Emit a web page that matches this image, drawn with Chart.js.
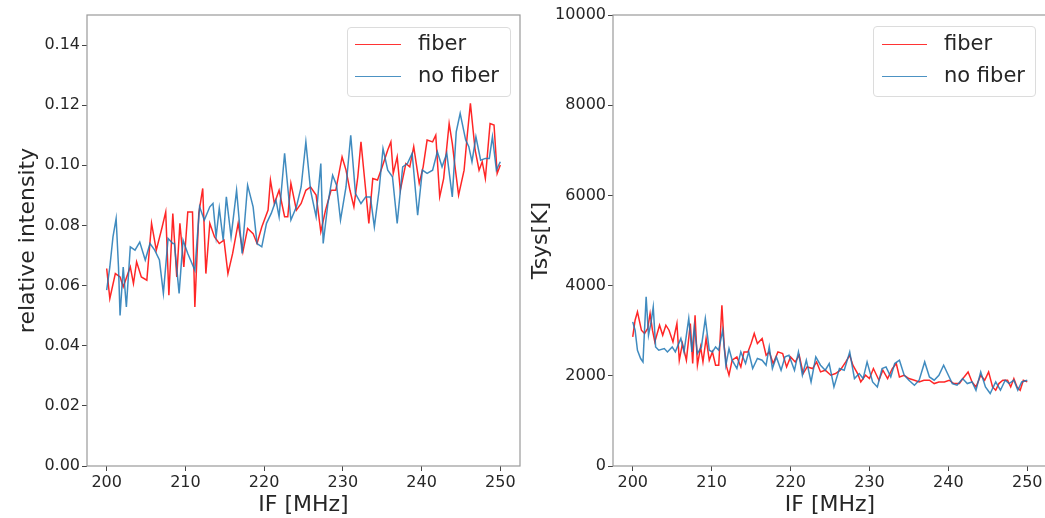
<!DOCTYPE html>
<html>
<head>
<meta charset="utf-8">
<script src="https://cdn.jsdelivr.net/npm/chart.js@4.4.1/dist/chart.umd.min.js"></script>
<style>
  html, body { margin:0; padding:0; background:#fff; }
  body { width:1045px; height:518px; overflow:hidden; position:relative; font-family:"DejaVu Sans", sans-serif; }
  canvas { position:absolute; top:0; }
  .legend { position:absolute; border:1px solid #dcdcdc; border-radius:4px; background:rgba(255,255,255,0.8); box-sizing:border-box; }
  .legend .ln { position:absolute; height:0; border-top:1.5px solid; }
  .legend .tx { position:absolute; font-size:21px; line-height:21px; color:#262626; white-space:nowrap; }
</style>
</head>
<body>
<canvas id="left" width="530" height="518" style="left:0;width:530px;height:518px"></canvas>
<canvas id="right" width="530" height="518" style="left:530px;width:530px;height:518px"></canvas>

<div class="legend" style="left:347px;top:27px;width:164px;height:70px">
  <div class="ln" style="left:7px;top:16px;width:46px;border-color:rgba(255,0,0,0.8)"></div>
  <div class="tx" style="left:70px;top:5px">fiber</div>
  <div class="ln" style="left:7px;top:48px;width:46px;border-color:rgba(31,119,180,0.8)"></div>
  <div class="tx" style="left:70px;top:37px">no fiber</div>
</div>
<div class="legend" style="left:873px;top:26px;width:163px;height:71px">
  <div class="ln" style="left:8px;top:17px;width:45px;border-color:rgba(255,0,0,0.8)"></div>
  <div class="tx" style="left:70px;top:6px">fiber</div>
  <div class="ln" style="left:8px;top:49px;width:45px;border-color:rgba(31,119,180,0.8)"></div>
  <div class="tx" style="left:70px;top:38px">no fiber</div>
</div>

<script>
// ---------------- data ----------------
const xTicks = [200, 210, 220, 230, 240, 250];
const leftYTicks = [0.00, 0.02, 0.04, 0.06, 0.08, 0.10, 0.12, 0.14];
const rightYTicks = [0, 2000, 4000, 6000, 8000, 10000];

const leftFiberFreq = [
  200.0,200.4,201.1,201.7,202.1,203.0,203.4,203.8,204.4,205.1,
  205.7,206.3,207.0,207.5,207.9,208.4,208.9,209.3,209.8,210.3,
  210.9,211.2,211.7,212.2,212.6,213.1,213.7,214.3,214.9,215.4,
  216.0,216.7,217.3,217.9,218.6,219.1,219.7,220.5,220.8,221.3,
  221.9,222.6,223.0,223.4,224.1,224.7,225.3,225.9,226.6,227.2,
  227.8,228.5,229.1,229.9,230.4,230.9,231.4,231.9,232.3,232.9,
  233.3,233.8,234.4,235.0,235.7,236.1,236.4,236.9,237.3,238.0,
  238.5,239.0,239.7,240.2,240.7,241.4,241.8,242.3,242.8,243.5,
  243.9,244.3,244.7,245.4,245.8,246.2,246.8,247.3,247.7,248.1,
  248.7,249.2,249.6,250.0];
const leftFiberVals = [
  0.0657,0.0557,0.0640,0.0629,0.0596,0.0662,0.0607,0.0679,0.0629,0.0618,
  0.0807,0.0718,0.0790,0.0845,0.0568,0.0840,0.0629,0.0807,0.0662,0.0845,
  0.0845,0.0529,0.0840,0.0923,0.0640,0.0807,0.0762,0.0740,0.0751,0.0640,
  0.0707,0.0807,0.0712,0.0790,0.0773,0.0740,0.0795,0.0851,0.0951,0.0873,
  0.0917,0.0829,0.0829,0.0940,0.0851,0.0873,0.0917,0.0928,0.0901,0.0779,
  0.0851,0.0917,0.0917,0.1028,0.0984,0.0917,0.0862,0.0962,0.1078,0.0917,
  0.0807,0.0956,0.0951,0.0995,0.1051,0.1078,0.0973,0.1028,0.0917,0.1006,
  0.0995,0.1062,0.0940,0.0995,0.1084,0.1078,0.1100,0.0895,0.0956,0.1139,
  0.1073,0.0984,0.0901,0.0984,0.1100,0.1206,0.1051,0.0984,0.1012,0.0956,
  0.1139,0.1134,0.0973,0.1001];

const leftNoFiberFreq = [
  200.0,200.4,200.8,201.2,201.5,201.7,202.1,202.5,203.0,203.6,
  204.2,204.9,205.5,206.1,206.7,207.2,207.8,208.4,208.6,209.2,
  209.7,210.3,211.2,211.8,212.4,213.1,213.5,213.9,214.3,214.8,
  215.2,215.8,216.5,217.2,217.9,218.6,219.1,219.7,220.3,220.9,
  221.5,221.9,222.6,223.0,223.4,224.1,224.7,225.3,225.9,226.6,
  227.2,227.5,228.1,228.7,229.2,229.7,230.4,231.0,231.6,232.3,
  232.9,233.5,234.0,234.6,235.1,235.7,236.3,236.9,237.6,238.2,
  238.8,239.5,240.1,240.7,241.4,242.0,242.6,243.2,243.9,244.4,
  244.9,245.6,246.0,246.4,246.9,247.5,248.1,248.6,249.0,249.5,
  250.0];
const leftNoFiberVals = [
  0.0585,0.0662,0.0762,0.0823,0.0662,0.0501,0.0662,0.0529,0.0729,0.0718,
  0.0745,0.0685,0.0740,0.0718,0.0685,0.0574,0.0757,0.0740,0.0740,0.0574,
  0.0751,0.0707,0.0651,0.0862,0.0818,0.0862,0.0873,0.0762,0.0857,0.0751,
  0.0895,0.0762,0.0917,0.0707,0.0934,0.0862,0.0740,0.0729,0.0807,0.0840,
  0.0884,0.0829,0.1040,0.0928,0.0818,0.0862,0.0928,0.1078,0.0917,0.0829,
  0.1006,0.0740,0.0873,0.0967,0.0934,0.0818,0.0928,0.1100,0.0906,0.0873,
  0.0895,0.0895,0.0795,0.0917,0.1056,0.0984,0.0962,0.0807,0.0995,0.1006,
  0.1040,0.0834,0.0984,0.0973,0.0984,0.1045,0.0995,0.1040,0.0895,0.1111,
  0.1173,0.1084,0.1062,0.1012,0.1095,0.1017,0.1023,0.1023,0.1095,0.0984,
  0.1012];

const rightFiberFreq = [
  200.0,200.3,200.6,201.1,201.5,201.9,202.2,202.5,202.8,203.4,
  203.8,204.2,204.6,205.1,205.6,205.9,206.3,206.8,207.3,207.6,
  207.9,208.2,208.6,208.9,209.3,209.7,210.1,210.5,210.9,211.3,
  211.6,211.9,212.2,212.6,213.2,213.7,214.1,214.6,215.0,215.4,
  215.8,216.4,216.9,217.3,217.8,218.4,219.0,219.5,220.0,220.6,
  221.1,221.6,222.1,222.8,223.3,223.8,224.4,225.1,225.7,226.3,
  227.0,227.5,227.9,228.5,228.9,229.5,230.0,230.5,231.2,231.7,
  232.3,232.9,233.4,233.8,234.4,235.0,235.7,236.3,236.9,237.6,
  238.2,238.8,239.5,240.1,240.7,241.4,242.0,242.5,243.0,243.5,
  244.1,244.6,245.1,245.6,246.0,246.4,246.9,247.5,247.9,248.3,
  248.7,249.1,249.5,250.0];
const rightFiberVals = [
  2863,3233,3417,3011,2938,3049,3382,3011,2752,3122,
  2900,3122,3011,2752,3160,2346,2716,2346,3160,2272,
  3344,2235,2641,2308,2827,2346,2530,2235,2235,3566,
  2641,2197,2013,2346,2419,2197,2530,2530,2716,2938,
  2716,2827,2456,2530,2272,2530,2494,2197,2419,2308,
  2456,2050,2197,2161,2308,2086,2124,2013,2050,2124,
  2308,2456,2235,2050,1864,2013,1939,2161,1902,2124,
  1939,2161,2272,1975,2013,1939,1902,1864,1902,1902,
  1828,1864,1864,1902,1828,1828,1975,2086,1864,1753,
  2013,1902,2086,1753,1680,1828,1902,1902,1753,1939,
  1753,1680,1902,1864];

const rightNoFiberFreq = [
  200.0,200.3,200.6,201.0,201.3,201.7,202.0,202.3,202.6,202.9,
  203.3,204.0,204.4,205.0,205.4,206.1,206.5,207.1,207.5,207.8,
  208.2,208.7,209.2,209.7,210.1,210.5,210.9,211.4,211.8,212.2,
  212.6,213.2,213.7,214.3,214.7,215.2,215.8,216.4,216.9,217.3,
  217.7,218.2,218.8,219.3,219.8,220.5,221.0,221.5,222.0,222.6,
  223.2,223.8,224.4,224.9,225.5,226.2,226.8,227.5,228.1,228.7,
  229.2,229.7,230.4,231.0,231.6,232.1,232.7,233.2,233.8,234.4,
  235.0,235.7,236.3,237.0,237.6,238.2,238.8,239.4,240.0,240.5,
  241.1,241.8,242.4,243.0,243.5,244.1,244.7,245.3,246.0,246.6,
  247.2,247.7,248.3,248.8,249.3,250.0];
const rightNoFiberVals = [
  3195,3011,2567,2383,2308,3750,2900,3160,3528,2641,
  2567,2605,2530,2641,2530,2827,2530,3271,2530,3084,
  2494,2641,3271,2567,2530,2641,2567,3011,2235,2605,
  2346,2161,2530,2272,2530,2161,2383,2346,2235,2641,
  2161,2419,2124,2419,2456,2124,2530,2013,2346,1864,
  2419,2235,2124,2272,1753,2161,2124,2530,1939,2050,
  1939,2308,1864,1753,2161,2197,1975,2272,2346,2013,
  1902,1791,1902,2308,1975,1902,2013,2235,2013,1828,
  1791,1939,1828,1864,1680,2086,1753,1607,1864,1680,
  1902,1828,1902,1680,1864,1902];

// ---------------- helpers ----------------
const RED = 'rgba(255,0,0,0.85)';
const BLUE = 'rgba(31,119,180,0.85)';
const TXT = '#262626';
const FONT = "'DejaVu Sans', sans-serif";

function pts(xs, ys) { return xs.map((x, i) => ({ x: x, y: ys[i] })); }

const framePlugin = {
  id: 'frame',
  afterDraw(chart) {
    const { ctx, chartArea: a } = chart;
    ctx.save();
    ctx.strokeStyle = '#9a9a9a';
    ctx.lineWidth = 1.2;
    ctx.strokeRect(a.left, a.top, a.right - a.left, a.bottom - a.top);
    ctx.restore();
  }
};

function makeChart(id, fiber, nofiber, yMax, yTicks, fmt, yTitle, yWidth, titlePadTop, padRight) {
  return new Chart(document.getElementById(id), {
    type: 'line',
    data: {
      datasets: [
        { label: 'fiber', data: fiber, borderColor: RED, borderWidth: 1.5, pointRadius: 0, tension: 0, fill: false, order: 2 },
        { label: 'no fiber', data: nofiber, borderColor: BLUE, borderWidth: 1.5, pointRadius: 0, tension: 0, fill: false, order: 1 }
      ]
    },
    options: {
      responsive: false,
      animation: false,
      devicePixelRatio: 1,
      layout: { padding: { left: 0, top: 15, right: padRight, bottom: 0 } },
      plugins: { legend: { display: false }, tooltip: { enabled: false } },
      scales: {
        x: {
          type: 'linear',
          min: 197.5, max: 252.5,
          afterBuildTicks: s => { s.ticks = xTicks.map(v => ({ value: v })); },
          afterFit: s => { s.height = 52; },
          grid: { display: true, drawOnChartArea: false, drawTicks: true, tickLength: 5, tickColor: '#444', tickWidth: 1 },
          border: { display: false },
          ticks: { color: TXT, font: { family: FONT, size: 16 }, padding: 2, maxRotation: 0, callback: v => String(v) },
          title: { display: true, text: 'IF [MHz]', color: TXT, font: { family: FONT, size: 22, lineHeight: 1 }, padding: { top: 0, bottom: 2 } }
        },
        y: {
          type: 'linear',
          min: 0, max: yMax,
          afterBuildTicks: s => { s.ticks = yTicks.map(v => ({ value: v })); },
          afterFit: s => { s.width = yWidth; },
          grid: { display: true, drawOnChartArea: false, drawTicks: true, tickLength: 5, tickColor: '#444', tickWidth: 1 },
          border: { display: false },
          ticks: { color: TXT, font: { family: FONT, size: 16 }, padding: 2, callback: fmt },
          title: { display: true, text: yTitle, color: TXT, font: { family: FONT, size: 22, lineHeight: 1 }, padding: { top: titlePadTop, bottom: 0 } }
        }
      }
    },
    plugins: [framePlugin]
  });
}

makeChart('left', pts(leftFiberFreq, leftFiberVals), pts(leftNoFiberFreq, leftNoFiberVals),
  0.15, leftYTicks, v => Number(v).toFixed(2), 'relative intensity', 87, 17, 10);
makeChart('right', pts(rightFiberFreq, rightFiberVals), pts(rightNoFiberFreq, rightNoFiberVals),
  10000, rightYTicks, v => String(v), 'Tsys[K]', 83, 0, 13);
</script>
</body>
</html>
